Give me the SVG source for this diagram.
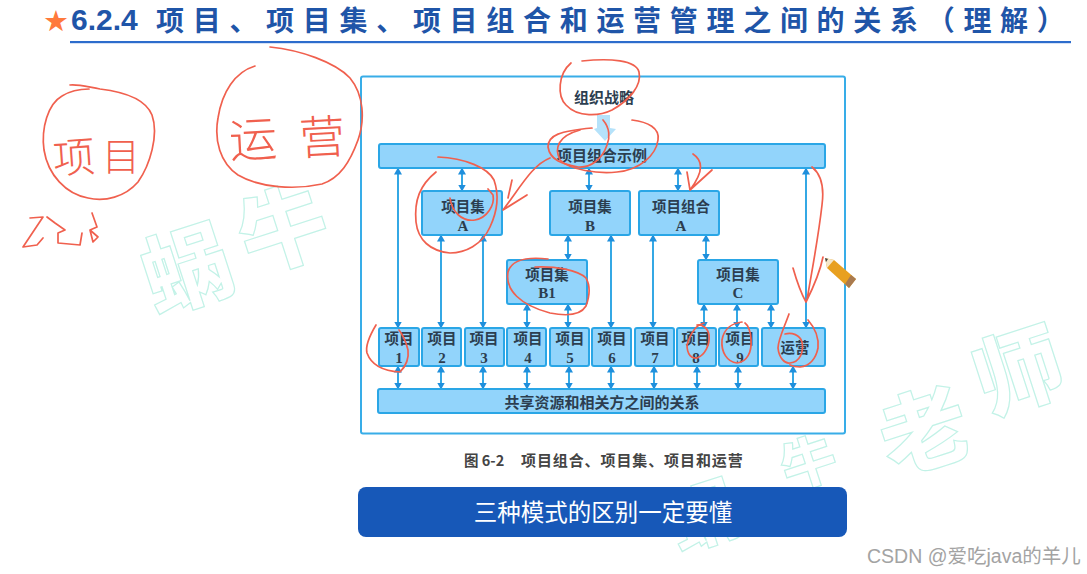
<svg xmlns="http://www.w3.org/2000/svg" width="1087" height="574" viewBox="0 0 1087 574">
<defs>
<style>
text{font-family:"Liberation Sans","Noto Sans CJK SC",sans-serif}
.cjk{font-family:"Noto Sans CJK SC",sans-serif}
.n{fill:#92d4fb;stroke:#2aa6e6;stroke-width:2}
.t{font-family:"Noto Sans CJK SC",sans-serif;font-weight:700;font-size:14.500px;fill:#2c3e50;text-anchor:middle}
.d{font-family:"Liberation Serif","Noto Sans CJK SC",serif;font-weight:700;font-size:15px;fill:#2c3e50;text-anchor:middle}
.c line{stroke:#1f9fe2;stroke-width:1.800;marker-start:url(#a);marker-end:url(#a)}
.ink{fill:none;stroke:#f0604e;stroke-width:1.700;stroke-linecap:round;stroke-linejoin:round}
.hand{font-family:"Noto Sans CJK SC",sans-serif;font-weight:300;fill:#f0604e}
.wm{font-family:"Noto Sans CJK SC",sans-serif;font-weight:900;font-size:88px;fill:#fff;stroke:#c2f2e7;stroke-width:1.200;text-anchor:middle}
</style>
<marker id="a" markerWidth="7" markerHeight="8" refX="6.500" refY="4" orient="auto-start-reverse" markerUnits="userSpaceOnUse"><path d="M0 0L7 4L0 8Z" fill="#1f8fdc"/></marker>
</defs>
<rect width="1087" height="574" fill="#fff"/>
<g id="watermark">
<text class="wm" transform="translate(197 300) rotate(-18)">蜗</text>
<text class="wm" transform="translate(293 260) rotate(-18)">牛</text>
<text class="wm" transform="translate(934 462) rotate(-18)">老</text>
<text class="wm" transform="translate(1028 402) rotate(-18)">师</text>
<text class="wm" transform="translate(712 540) rotate(-18)" style="font-size:70px">蜗</text>
<text class="wm" transform="translate(815 482) rotate(-18)" style="font-size:55px">牛</text>
</g>
<g id="title">
<text x="43" y="31" style="font-family:'DejaVu Sans',sans-serif;font-size:29px;fill:#ff7a3c">★</text>
<text x="71" y="30" style="font-size:30px;fill:#1f55a8;font-weight:700">6.2.4</text>
<text x="156" y="31" class="cjk" style="font-size:28px;font-weight:700;fill:#1f55a8;letter-spacing:8.700px">项目、项目集、项目组合和运营管理之间的关系（理解）</text>
<rect x="70" y="41" width="1001" height="2.200" fill="#2d6ccc"/>
</g>
<rect id="frame" x="361" y="76.500" width="484" height="357" rx="2" fill="#fff" stroke="#38ade8" stroke-width="2"/>
<path id="strategy-arrow" d="M597 115H610V128L616 129L605 141L594 129L597 128Z" fill="#b5e2fa"/>
<g id="strategy"><text class="t" x="604" y="103" style="font-size:15px">组织战略</text></g>
<g class="c" id="connectors">
<line x1="398" y1="168" x2="398" y2="328"/>
<line x1="462" y1="168" x2="462" y2="191"/>
<line x1="589" y1="168" x2="589" y2="191"/>
<line x1="678" y1="168" x2="678" y2="191"/>
<line x1="806" y1="168" x2="806" y2="328"/>
<line x1="441" y1="235" x2="441" y2="328"/>
<line x1="483" y1="235" x2="483" y2="328"/>
<line x1="568" y1="235" x2="568" y2="260"/>
<line x1="611" y1="235" x2="611" y2="328"/>
<line x1="653" y1="235" x2="653" y2="328"/>
<line x1="706" y1="235" x2="706" y2="260"/>
<line x1="527" y1="304" x2="527" y2="328"/>
<line x1="568" y1="304" x2="568" y2="328"/>
<line x1="704" y1="304" x2="704" y2="328"/>
<line x1="737" y1="304" x2="737" y2="328"/>
<line x1="771" y1="304" x2="771" y2="328"/>
<line x1="398" y1="366" x2="398" y2="389"/>
<line x1="441" y1="366" x2="441" y2="389"/>
<line x1="483" y1="366" x2="483" y2="389"/>
<line x1="527" y1="366" x2="527" y2="389"/>
<line x1="569" y1="366" x2="569" y2="389"/>
<line x1="611" y1="366" x2="611" y2="389"/>
<line x1="654" y1="366" x2="654" y2="389"/>
<line x1="697" y1="366" x2="697" y2="389"/>
<line x1="738" y1="366" x2="738" y2="389"/>
<line x1="793" y1="366" x2="793" y2="389"/>
</g>
<g id="portfolio-bar"><rect class="n" x="379" y="144" width="446" height="24" rx="2"/><text class="t" x="602" y="161" style="font-size:15px">项目组合示例</text></g>
<g id="program-a"><rect class="n" x="422" y="191" width="80" height="44" rx="2"/><text class="t" x="463" y="212">项目集</text><text class="d" x="463" y="231">A</text></g>
<g id="program-b"><rect class="n" x="550" y="191" width="80" height="44" rx="2"/><text class="t" x="590" y="212">项目集</text><text class="d" x="590" y="231">B</text></g>
<g id="portfolio-a"><rect class="n" x="639" y="191" width="80" height="44" rx="2"/><text class="t" x="681" y="212">项目组合</text><text class="d" x="681" y="231">A</text></g>
<g id="program-b1"><rect class="n" x="507" y="260" width="80" height="44" rx="2"/><text class="t" x="547" y="280">项目集</text><text class="d" x="547" y="298">B1</text></g>
<g id="program-c"><rect class="n" x="698" y="260" width="80" height="44" rx="2"/><text class="t" x="738" y="280">项目集</text><text class="d" x="738" y="298">C</text></g>
<g id="project-1"><rect class="n" x="379" y="328" width="40" height="38" rx="2"/><text class="t" x="399" y="344">项目</text><text class="d" x="399" y="363">1</text></g>
<g id="project-2"><rect class="n" x="422" y="328" width="39" height="38" rx="2"/><text class="t" x="442" y="344">项目</text><text class="d" x="442" y="363">2</text></g>
<g id="project-3"><rect class="n" x="465" y="328" width="39" height="38" rx="2"/><text class="t" x="484" y="344">项目</text><text class="d" x="484" y="363">3</text></g>
<g id="project-4"><rect class="n" x="507" y="328" width="39" height="38" rx="2"/><text class="t" x="528" y="344">项目</text><text class="d" x="528" y="363">4</text></g>
<g id="project-5"><rect class="n" x="550" y="328" width="39" height="38" rx="2"/><text class="t" x="570" y="344">项目</text><text class="d" x="570" y="363">5</text></g>
<g id="project-6"><rect class="n" x="592" y="328" width="39" height="38" rx="2"/><text class="t" x="612" y="344">项目</text><text class="d" x="612" y="363">6</text></g>
<g id="project-7"><rect class="n" x="635" y="328" width="39" height="38" rx="2"/><text class="t" x="655" y="344">项目</text><text class="d" x="655" y="363">7</text></g>
<g id="project-8"><rect class="n" x="677" y="328" width="39" height="38" rx="2"/><text class="t" x="696" y="344">项目</text><text class="d" x="696" y="363">8</text></g>
<g id="project-9"><rect class="n" x="719" y="328" width="39" height="38" rx="2"/><text class="t" x="740" y="344">项目</text><text class="d" x="740" y="363">9</text></g>
<g id="operations"><rect class="n" x="762" y="328" width="63" height="38" rx="2"/><text class="t" x="795" y="353">运营</text></g>
<g id="shared-bar"><rect class="n" x="378" y="389" width="447" height="24" rx="2"/><text class="t" x="602" y="408" style="font-size:15px">共享资源和相关方之间的关系</text></g>
<g id="caption"><text x="464" y="466" style="font-size:14.500px;font-weight:700;fill:#444;font-family:'Noto Sans CJK SC',sans-serif">图 6-2</text><text x="521" y="466" style="font-size:15px;font-weight:700;fill:#444;letter-spacing:.9px;font-family:'Noto Sans CJK SC',sans-serif">项目组合、项目集、项目和运营</text></g>
<g id="banner"><rect x="358" y="487" width="489" height="50" rx="8" fill="#1758b8"/><text x="603" y="521" class="cjk" style="font-size:23.500px;fill:#fff;text-anchor:middle">三种模式的区别一定要懂</text></g>
<text x="867" y="563" style="font-size:19.500px;fill:#a3a3a3">CSDN @爱吃java的羊儿</text>
<g id="pencil">
<path d="M825 258L834 260L856 279L849 288L827 268Z" fill="#e8a020"/>
<path d="M825 258L834 260L827 268Z" fill="#f5e6c8"/>
<path d="M825 258L828 259L826 262Z" fill="#444"/>
<path d="M851 275L856 279L849 288L845 284Z" fill="#a87a50"/>
</g>
<g id="annotations" class="ink">
<path d="M70 85C78 84 88 87 100 89C125 92 146 100 152 115C159 135 150 165 138 182C125 197 105 202 88 198C66 194 48 175 44 150C41 128 48 104 62 96C70 91 78 89 89 89"/>
<path d="M270 47C300 50 335 62 350 78C364 95 365 120 358 140C350 162 340 178 322 184C295 190 260 188 238 175C220 163 214 140 218 118C222 92 235 72 255 66"/>
<path d="M30 218L43 217L23 247L37 245L43 238M47 217L55 223L65 230L58 233L58 243L80 245L82 233M92 213L97 227L90 230L98 237L93 242L90 230"/>
<path d="M571 63C558 74 557 96 566 105C578 118 600 116 612 110C630 100 642 85 639 72C636 60 610 58 582 61"/>
<path d="M603 120C610 128 610 138 607 145C602 160 590 168 578 167C562 164 550 160 548 147C548 135 560 131 592 128"/>
<path d="M632 120C648 122 660 128 658 140C656 155 640 170 617 172C598 174 570 170 560 160C554 148 558 136 580 130"/>
<path d="M550 158C532 165 520 188 503 210L527 195M512 180L508 198"/>
<path d="M438 157C465 158 488 168 494 180C500 197 497 212 490 227C482 245 465 253 450 253C430 251 418 240 416 222C414 200 420 185 436 172"/>
<path d="M450 198C452 212 462 222 475 220C487 218 495 205 493 195L488 189"/>
<path d="M693 154C702 160 705 170 690 190M687 172L690 190L712 170"/>
<path d="M812 167C822 175 824 190 822 205C818 240 812 270 807 300M793 268C797 282 802 295 806 302C812 290 820 272 823 257"/>
<path d="M548 259C530 257 512 258 508 272C505 290 520 305 550 313C565 316 580 316 586 306C590 295 590 285 586 278C578 270 555 266 535 267"/>
<path d="M376 325C370 335 365 345 367 353C371 364 382 371 400 372C407 365 409 358 408 350C406 342 403 335 399 330"/>
<path d="M704 323C695 325 690 335 687 345C687 355 692 359 697 358C705 355 710 345 709 335C708 328 702 324 697 325"/>
<path d="M742 322C733 323 724 328 722 340C721 352 727 362 737 363C747 362 752 352 751 340C751 332 748 325 745 323"/>
<path d="M789 314C784 328 778 340 778 348C779 358 785 364 790 363C800 362 804 352 802 342C800 335 792 332 785 334"/>
<path d="M808 320C815 328 819 338 818 348C816 358 810 366 800 367C795 367 792 366 790 365"/>
</g>
<text class="hand" transform="translate(54 174) rotate(-4)" style="font-size:42px">项</text>
<text class="hand" transform="translate(102 170)" style="font-size:38px">目</text>
<text class="hand" transform="translate(230 158) rotate(-3)" style="font-size:48px">运</text>
<text class="hand" transform="translate(300 155) rotate(-3)" style="font-size:46px">营</text>
</svg>
